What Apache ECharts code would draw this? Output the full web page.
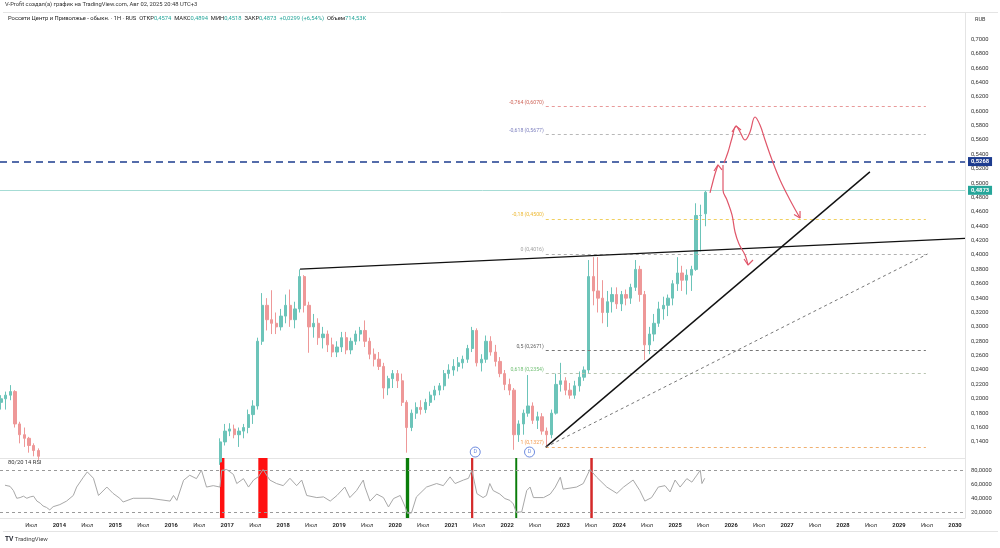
<!DOCTYPE html>
<html>
<head>
<meta charset="utf-8">
<title>Россети Центр и Приволжье</title>
<script src="https://cdn.jsdelivr.net/npm/echarts@6/dist/echarts.min.js"></script>
<style>
  html, body { margin: 0; padding: 0; background: #fff; }
  #chart { width: 1000px; height: 548px; }
</style>
</head>
<body>
<div id="chart"></div>
<script>
// candles are monthly, x axis in decimal years
function monthRange(y0, m0, y1, m1) {
  var out = [];
  var y = y0, m = m0;
  while (y < y1 || (y === y1 && m <= m1)) {
    out.push(y + '-' + (m < 10 ? '0' + m : m));
    m++;
    if (m > 12) { m = 1; y++; }
  }
  return out;
}

var months = monthRange(2012, 12, 2013, 8).concat(monthRange(2016, 11, 2025, 7));

var open = [
  .195, .200, .205, .210, .165, .150, .145, .135, .128,
  .112, .140,
  .155, .158, .150, .155, .160, .178, .190, .280, .330, .310, .305, .300,
  .315, .330, .310, .325, .370, .330, .300, .305, .285, .290, .275, .265,
  .272, .285, .268, .280, .290, .295, .280, .262, .255, .245, .215, .228,
  .235, .225, .195, .160, .180, .188, .185, .195, .205, .212, .218, .235,
  .240, .245, .250, .255, .270, .295, .250, .255, .280, .265, .252, .235,
  .220, .212, .150, .165, .180, .190, .170, .175, .155, .150, .180, .220,
  .225, .212, .205, .218, .230, .240, .370, .350, .340, .320, .335, .345,
  .332, .345, .340, .355, .380, .345, .275, .290, .305, .325, .330, .340,
  .360, .375, .365, .372, .380, .455, .4574
];
var high = [
  .205, .210, .219, .212, .168, .160, .147, .138, .131,
  .145, .165,
  .166, .164, .160, .165, .185, .198, .285, .347, .340, .351, .320, .325,
  .345, .352, .335, .380, .372, .335, .318, .312, .300, .295, .285, .280,
  .293, .293, .285, .295, .300, .309, .285, .270, .265, .250, .232, .240,
  .240, .235, .198, .185, .195, .198, .200, .210, .218, .222, .240, .248,
  .255, .258, .260, .275, .300, .298, .262, .288, .287, .275, .258, .240,
  .228, .215, .170, .185, .233, .195, .182, .180, .160, .185, .235, .250,
  .230, .222, .225, .238, .245, .393, .397, .397, .365, .350, .355, .355,
  .350, .352, .360, .393, .385, .350, .300, .318, .335, .342, .345, .365,
  .397, .385, .380, .385, .472, .470, .4894
];
var low = [
  .185, .185, .198, .160, .138, .133, .125, .120, .115,
  .108, .135,
  .148, .145, .133, .145, .152, .165, .185, .275, .295, .290, .290, .295,
  .305, .300, .298, .320, .320, .264, .285, .275, .270, .265, .258, .258,
  .265, .262, .262, .275, .280, .272, .255, .245, .240, .200, .205, .215,
  .215, .190, .125, .155, .172, .178, .180, .190, .198, .205, .212, .228,
  .232, .238, .242, .250, .265, .245, .238, .250, .260, .245, .230, .212,
  .205, .129, .140, .150, .175, .165, .158, .150, .133, .145, .178, .210,
  .205, .200, .200, .210, .225, .235, .330, .320, .305, .300, .320, .325,
  .322, .330, .332, .350, .335, .254, .262, .280, .300, .310, .315, .330,
  .350, .350, .345, .350, .378, .405, .440
];
var close = [
  .200, .205, .210, .165, .150, .145, .135, .128, .120,
  .140, .155,
  .158, .150, .155, .160, .178, .190, .280, .330, .310, .305, .300, .315,
  .330, .310, .325, .370, .330, .300, .305, .285, .290, .275, .265, .272,
  .285, .268, .280, .290, .295, .280, .262, .255, .245, .215, .228, .235,
  .225, .195, .160, .180, .188, .185, .195, .205, .212, .218, .235, .240,
  .245, .250, .255, .270, .295, .250, .255, .280, .265, .252, .235, .220,
  .212, .150, .165, .180, .190, .170, .175, .155, .150, .180, .220, .225,
  .212, .205, .218, .230, .240, .370, .350, .340, .320, .335, .345, .332,
  .345, .340, .355, .380, .345, .275, .290, .305, .325, .330, .340, .360,
  .375, .365, .372, .380, .455, .455, .4873
];

var rsiDates = [
  2013.03, 2013.12, 2013.18, 2013.24, 2013.30, 2013.36, 2013.42, 2013.48, 2013.54, 2013.60,
  2013.66, 2013.71, 2013.77, 2013.83, 2013.89, 2014.01, 2014.13, 2014.25, 2014.31, 2014.43,
  2014.50, 2014.61, 2014.70, 2014.85, 2014.96, 2015.08, 2015.14, 2015.32, 2015.62, 2015.80,
  2015.98, 2016.04, 2016.10, 2016.22, 2016.33, 2016.45, 2016.54, 2016.63, 2016.75, 2016.87,
  2016.90, 2016.99, 2017.11, 2017.17, 2017.29, 2017.38, 2017.47, 2017.56, 2017.64, 2017.76,
  2017.88, 2018.00, 2018.12, 2018.24, 2018.33, 2018.42, 2018.60, 2018.72, 2018.84, 2018.96,
  2019.10, 2019.19, 2019.31, 2019.43, 2019.46, 2019.55, 2019.67, 2019.79, 2019.88, 2019.97,
  2020.09, 2020.18, 2020.22, 2020.29, 2020.38, 2020.56, 2020.74, 2020.86, 2020.98, 2021.07,
  2021.22, 2021.31, 2021.37, 2021.46, 2021.57, 2021.63, 2021.69, 2021.75, 2021.87, 2021.96,
  2022.05, 2022.11, 2022.16, 2022.26, 2022.35, 2022.41, 2022.47, 2022.65, 2022.77, 2022.86,
  2022.95, 2023.00, 2023.24, 2023.36, 2023.48, 2023.60, 2023.78, 2023.96, 2024.08, 2024.25,
  2024.37, 2024.46, 2024.58, 2024.70, 2024.82, 2024.91, 2025.00, 2025.09, 2025.21, 2025.30,
  2025.39, 2025.45, 2025.48, 2025.53
];
var rsiValues = [
  58.6, 57, 51, 40, 41, 43, 40, 42, 43, 36,
  33, 29, 27, 23.5, 28, 31, 36, 44, 56, 70,
  77.6, 68.5, 44, 56, 47, 40, 34.7, 40, 40, 38,
  36, 44, 37, 65.7, 72.8, 68, 80, 56, 58, 56,
  80, 81, 74, 61, 68, 56, 66, 71, 81, 66,
  61, 58, 68.5, 58, 66, 44, 41, 42, 36, 44,
  56, 41, 51, 66, 56, 36, 46, 41, 27.6, 39.6,
  44, 27.6, 18.6, 19, 42, 56, 61, 58, 70.5, 61,
  66, 68.5, 80, 46.6, 41, 44, 61, 51, 46, 39.6,
  37, 32, 20.5, 20.5, 51, 56, 41, 41, 46, 56,
  70, 53, 56, 61, 81, 70, 56, 47, 56, 66,
  51, 36, 41, 56, 58, 49, 66, 56, 68, 63,
  73, 80, 61, 68.5
];

// RSI extreme markers (start, end of the coloured bar)
var signalStart = [2016.87, 2017.555, 2020.19, 2021.355, 2022.145, 2023.485];
var signalEnd = [2016.95, 2017.72, 2020.25, 2021.395, 2022.18, 2023.53];
var signalColors = ['#ff1010', '#ff1010', '#0a7d0a', '#d42a2a', '#0a7d0a', '#d42a2a'];

var priceTicks = [0.14, 0.16, 0.18, 0.20, 0.22, 0.24, 0.26, 0.28, 0.30, 0.32, 0.34, 0.36, 0.38,
  0.40, 0.42, 0.44, 0.46, 0.48, 0.50, 0.52, 0.54, 0.56, 0.58, 0.60, 0.62, 0.64, 0.66, 0.68, 0.70];
var rsiTicks = [20, 40, 60, 80];
var yearTicks = [2013.5, 2014, 2014.5, 2015, 2015.5, 2016, 2016.5, 2017, 2017.5, 2018, 2018.5,
  2019, 2019.5, 2020, 2020.5, 2021, 2021.5, 2022, 2022.5, 2023, 2023.5, 2024, 2024.5,
  2025, 2025.5, 2026, 2026.5, 2027, 2027.5, 2028, 2028.5, 2029, 2029.5, 2030];

// fibonacci from the 2022 low to the 0.4016 level
var fibRatios = ['-0,764', '-0,618', '-0,18', '0', '0,5', '0,618', '1'];
var fibPrices = [0.6070, 0.5677, 0.4500, 0.4016, 0.2671, 0.2354, 0.1327];
var fibTextColors = ['#c0392b', '#5b5fae', '#e8a800', '#888888', '#333333', '#4caf50', '#f08020'];
var fibLineColors = ['#e89a9a', '#b8b8b8', '#f0d060', '#b0b0b0', '#777777', '#b8c4b0', '#f0b070'];
var fibFrom = 2022.69, fibTo = 2029.48;

var resistance = [[2018.30, 0.3803], [2030.179, 0.4232]];
var support = [[2022.69, 0.1327], [2028.48, 0.5157]];
var supportDashed = [[2022.69, 0.1327], [2029.51, 0.4014]];
var keyLevel = 0.5268;
var lastClose = 0.4873;

var dividends = [[2021.43, 0.1259], [2022.40, 0.1259]];

// hand drawn scenarios
var pathUp = [[2025.624, 0.4863], [2025.660, 0.4974], [2025.713, 0.5127], [2025.767, 0.5253]];
var headUp = [[2025.695, 0.5169], [2025.767, 0.5253], [2025.838, 0.5183]];
var pathTop = [[2025.874, 0.5280], [2025.946, 0.5433], [2026.017, 0.5628], [2026.089, 0.5795],
  [2026.160, 0.5712], [2026.249, 0.5600], [2026.339, 0.5712], [2026.428, 0.5920],
  [2026.517, 0.5809], [2026.607, 0.5600], [2026.732, 0.5322], [2026.875, 0.5044],
  [2027.053, 0.4766], [2027.232, 0.4515]];
var headTop = [[2026.017, 0.5712], [2026.089, 0.5795], [2026.178, 0.5740]];
var headTopEnd = [[2027.125, 0.4565], [2027.232, 0.4515], [2027.232, 0.4613]];
var pathDown = [[2025.856, 0.5253], [2025.856, 0.4905], [2025.927, 0.4766], [2026.017, 0.4557],
  [2026.071, 0.4320], [2026.142, 0.4153], [2026.249, 0.4000], [2026.303, 0.3861]];
var headDown = [[2026.232, 0.3945], [2026.303, 0.3861], [2026.392, 0.3931]];

function monthToYear(s) {
  var p = s.split('-');
  return +p[0] + (+p[1] - 0.5) / 12;
}
function comma(v, d) { return v.toFixed(d).replace('.', ','); }

var FONT = 'Roboto, "Noto Sans", sans-serif';
var UP = '#6cc4b9', DOWN = '#ee9898', DRAW = '#e0566a';
var X_MIN = 2012.9407, X_MAX = 2030.179;

var candles = months.map(function (m, i) {
  return [monthToYear(m), open[i], close[i], low[i], high[i]];
});

var fibLines = fibPrices.map(function (p, i) {
  return [
    { coord: [fibFrom, p], lineStyle: { color: fibLineColors[i], type: [3, 3], width: 1 } },
    { coord: [fibTo, p] }
  ];
});
var fibLabels = fibPrices.map(function (p, i) {
  return {
    value: [fibFrom, p],
    label: { formatter: fibRatios[i] + ' (' + comma(p, 4) + ')', color: fibTextColors[i] }
  };
});

function drawSeries(data, smooth) {
  return {
    type: 'line', xAxisIndex: 0, yAxisIndex: 0, data: data, smooth: smooth,
    showSymbol: false, silent: true, z: 5,
    lineStyle: { color: DRAW, width: 1.2 }
  };
}

var chart = echarts.init(document.getElementById('chart'));

var option = {
  backgroundColor: '#ffffff',
  animation: false,
  textStyle: { fontFamily: FONT },
  grid: [
    { left: 0, right: 35, top: 12.7, height: 445.3 },
    { left: 0, right: 35, top: 458, height: 60 }
  ],
  xAxis: [{
    gridIndex: 0, type: 'value', min: X_MIN, max: X_MAX,
    axisLine: { show: true, lineStyle: { color: '#e4e4e4' } },
    axisTick: { show: false }, axisLabel: { show: false }, splitLine: { show: false }
  }, {
    gridIndex: 1, type: 'value', min: X_MIN, max: X_MAX,
    axisLine: { show: true, lineStyle: { color: '#e4e4e4' } },
    axisTick: { show: false }, splitLine: { show: false },
    axisLabel: {
      customValues: yearTicks, fontSize: 5.8, color: '#333', margin: 5,
      formatter: function (v) {
        return Math.abs(v - Math.round(v)) < 0.01 ? '{y|' + Math.round(v) + '}' : 'Июл';
      },
      rich: { y: { fontSize: 5.8, color: '#222', fontWeight: 'bold' } }
    }
  }],
  yAxis: [{
    gridIndex: 0, type: 'value', position: 'right', min: 0.1176, max: 0.7371,
    axisLine: { show: true, lineStyle: { color: '#e4e4e4' } },
    axisTick: { show: false }, splitLine: { show: false },
    axisLabel: {
      customValues: priceTicks, fontSize: 5.8, color: '#333', margin: 6,
      formatter: function (v) { return comma(v, 4); }
    }
  }, {
    gridIndex: 1, type: 'value', position: 'right', min: 11.9, max: 97.4,
    axisLine: { show: true, lineStyle: { color: '#e4e4e4' } },
    axisTick: { show: false }, splitLine: { show: false },
    axisLabel: {
      customValues: rsiTicks, fontSize: 5.8, color: '#333', margin: 6,
      formatter: function (v) { return comma(v, 4); }
    }
  }],
  series: [
    {
      type: 'candlestick', xAxisIndex: 0, yAxisIndex: 0,
      data: candles, encode: { x: 0, y: [1, 2, 3, 4] },
      barWidth: 2.8, clip: true, z: 3,
      itemStyle: { color: UP, color0: DOWN, borderColor: UP, borderColor0: DOWN, borderWidth: 1 },
      markLine: {
        silent: true, symbol: 'none', animation: false,
        data: [
          {
            yAxis: keyLevel,
            lineStyle: { color: '#1d3c8f', type: [7, 5], width: 1.6 },
            label: {
              position: 'end', distance: 3, formatter: comma(keyLevel, 4),
              color: '#fff', backgroundColor: '#1d3c8f', padding: [2, 3, 1, 3],
              fontSize: 5.8, fontWeight: 'bold'
            }
          },
          {
            yAxis: lastClose,
            lineStyle: { color: '#a6dcd5', type: 'solid', width: 1 },
            label: {
              position: 'end', distance: 3, formatter: comma(lastClose, 4),
              color: '#fff', backgroundColor: '#26a69a', padding: [2, 3, 1, 3],
              fontSize: 5.8, fontWeight: 'bold'
            }
          }
        ]
      }
    },
    {
      type: 'scatter', xAxisIndex: 0, yAxisIndex: 0, symbolSize: 0, silent: true,
      data: fibLabels, z: 4,
      label: { show: true, position: 'left', distance: 2, offset: [0, -4], fontSize: 5.2 },
      markLine: {
        silent: true, symbol: 'none', animation: false, label: { show: false },
        data: fibLines.concat([
          [{ coord: resistance[0], lineStyle: { color: '#111', width: 1.4, type: 'solid' } }, { coord: resistance[1] }],
          [{ coord: support[0], lineStyle: { color: '#111', width: 1.4, type: 'solid' } }, { coord: support[1] }],
          [{ coord: supportDashed[0], lineStyle: { color: '#777', width: 1, type: [3, 3] } }, { coord: supportDashed[1] }]
        ])
      }
    },
    {
      type: 'scatter', xAxisIndex: 0, yAxisIndex: 0, data: dividends, symbol: 'circle',
      symbolSize: 10, silent: true, z: 6,
      itemStyle: { color: '#fff', borderColor: '#4a6ed6', borderWidth: 1 },
      label: { show: true, position: 'inside', formatter: 'D', color: '#4a6ed6', fontSize: 5.5 }
    },
    drawSeries(pathUp, 0.3),
    drawSeries(headUp, false),
    drawSeries(pathTop, 0.4),
    drawSeries(headTop, false),
    drawSeries(headTopEnd, false),
    drawSeries(pathDown, 0.4),
    drawSeries(headDown, false),
    {
      type: 'line', xAxisIndex: 1, yAxisIndex: 1, showSymbol: false, silent: true,
      data: rsiDates.map(function (d, i) { return [d, rsiValues[i]]; }),
      lineStyle: { color: '#a8a8a8', width: 1 }, z: 4,
      markLine: {
        silent: true, symbol: 'none', animation: false, label: { show: false },
        lineStyle: { color: '#9a9a9a', type: [3, 3], width: 1 },
        data: [{ yAxis: 80 }, { yAxis: 20 }]
      },
      markArea: {
        silent: true,
        data: signalStart.map(function (s, i) {
          return [{ xAxis: s, itemStyle: { color: signalColors[i] } }, { xAxis: signalEnd[i] }];
        })
      }
    }
  ],
  graphic: [
    {
      type: 'text', left: 5, top: 2,
      style: { text: 'V-Profit создал(а) график на TradingView.com, Авг 02, 2025 20:48 UTC+3', fontSize: 5.8, fill: '#333', fontFamily: FONT }
    },
    {
      type: 'line', shape: { x1: 3, y1: 12.5, x2: 998, y2: 12.5 }, style: { stroke: '#e4e4e4', lineWidth: 1 }
    },
    {
      type: 'text', left: 8, top: 15.5,
      style: {
        text: 'Россети Центр и Приволжье - обыкн. · 1Н · RUS  ОТКР{v|0,4574}  МАКС{v|0,4894}  МИН{v|0,4518}  ЗАКР{v|0,4873}  {v|+0,0299 (+6,54%)}  Объем{v|714,53K}',
        fontSize: 5.8, fill: '#222', fontFamily: FONT,
        rich: { v: { fontSize: 5.8, fill: '#26a69a', fontFamily: FONT } }
      }
    },
    {
      type: 'text', left: 975, top: 17,
      style: { text: 'RUB', fontSize: 5.5, fill: '#333', fontFamily: FONT }
    },
    {
      type: 'text', left: 8, top: 460,
      style: { text: '80/20 14 RSI', fontSize: 5.8, fill: '#333', fontFamily: FONT }
    },
    {
      type: 'line', shape: { x1: 3, y1: 531.5, x2: 998, y2: 531.5 }, style: { stroke: '#e4e4e4', lineWidth: 1 }
    },
    {
      type: 'text', left: 5, top: 536,
      style: { text: '{b|TV} TradingView', fontSize: 6, fill: '#444', fontFamily: FONT, rich: { b: { fontSize: 6.5, fontWeight: 'bold', fill: '#131722' } } }
    }
  ]
};

chart.setOption(option);
</script>
</body>
</html>
